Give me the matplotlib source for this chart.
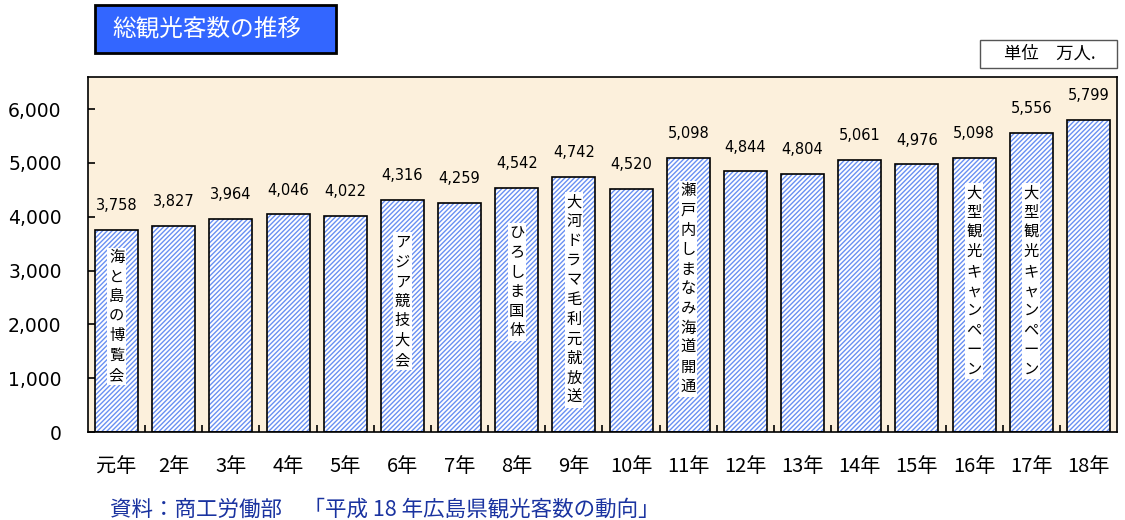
import matplotlib
matplotlib.use("Agg")
import matplotlib.pyplot as plt
from matplotlib.patches import Rectangle
import numpy as np

plt.rcParams['font.family'] = ['Noto Sans CJK JP', 'DejaVu Sans']
plt.rcParams['hatch.linewidth'] = 1.0

years = ["元年", "2年", "3年", "4年", "5年", "6年", "7年", "8年", "9年",
         "10年", "11年", "12年", "13年", "14年", "15年", "16年", "17年", "18年"]
visitors = [3758, 3827, 3964, 4046, 4022, 4316, 4259, 4542, 4742,
            4520, 5098, 4844, 4804, 5061, 4976, 5098, 5556, 5799]
event_index = [0, 5, 7, 8, 10, 15, 16]
event_text = ["海と島の博覧会", "アジア競技大会", "ひろしま国体", "大河ドラマ毛利元就放送",
              "瀬戸内しまなみ海道開通", "大型観光キャンペーン", "大型観光キャンペーン"]
event_top = [3400, 3680, 3860, 4440, 4640, 4600, 4600]

fig = plt.figure(figsize=(11.25, 5.2), dpi=100)
ax = fig.add_axes([0.0782, 0.1692, 0.9147, 0.683])
ax.set_facecolor('#FCF0DC')

x = np.arange(len(years))
w = 0.75
ax.bar(x, visitors, width=w, color='white', edgecolor='#6A90F2', hatch='///////', linewidth=0)
ax.bar(x, visitors, width=w, color='none', edgecolor='black', linewidth=1.2)

ax.set_xlim(-0.5, len(years) - 0.5)
ax.set_ylim(0, 6600)
ax.set_yticks(range(0, 7000, 1000))
ax.set_yticklabels([f"{v:,}" for v in range(0, 7000, 1000)], fontsize=13.5, family='DejaVu Sans')
ax.set_xticks(x)
ax.set_xticklabels(years, fontsize=14.5)
ax.set_xticks(np.arange(0.5, len(years) - 1, 1), minor=True)
ax.tick_params(axis='x', which='major', length=0, pad=17)
ax.tick_params(axis='x', which='minor', direction='in', length=5, width=1.2)
ax.tick_params(axis='y', direction='in', length=5, width=1.2, pad=19)
for sp in ax.spines.values():
    sp.set_linewidth(1.2)

for i, v in zip(x, visitors):
    ax.annotate(f"{v:,}", (i, v), xytext=(0, 12), textcoords='offset points',
                ha='center', va='bottom', fontsize=10.5, family='DejaVu Sans')

for i, t, top in zip(event_index, event_text, event_top):
    ax.text(i, top, "\n".join(t), ha='center', va='top', fontsize=11,
            linespacing=1.2,
            bbox=dict(boxstyle='square,pad=0.1', facecolor='white', edgecolor='none'))

# title box
title_bg = Rectangle((95 / 1125, 1 - 53 / 520), 241 / 1125, 48 / 520, transform=fig.transFigure,
                     facecolor='#3366FF', edgecolor='black', linewidth=2)
fig.patches.append(title_bg)
fig.text(112 / 1125, 1 - 29 / 520, "総観光客数の推移", ha='left', va='center', fontsize=17,
         color='white')

# unit box
unit_bg = Rectangle((980 / 1125, 1 - 68 / 520), 137 / 1125, 28 / 520, transform=fig.transFigure,
                    facecolor='white', edgecolor='#555555', linewidth=1)
fig.patches.append(unit_bg)
fig.text(1050 / 1125, 1 - 54 / 520, "単位　万人.", ha='center', va='center', fontsize=12.5)

fig.text(110 / 1125, 1 - 509 / 520, "資料：商工労働部　「平成 18 年広島県観光客数の動向」",
         ha='left', va='center', fontsize=15.5, color='#1A33A0')

fig.savefig("out.png", dpi=100, facecolor='white')
